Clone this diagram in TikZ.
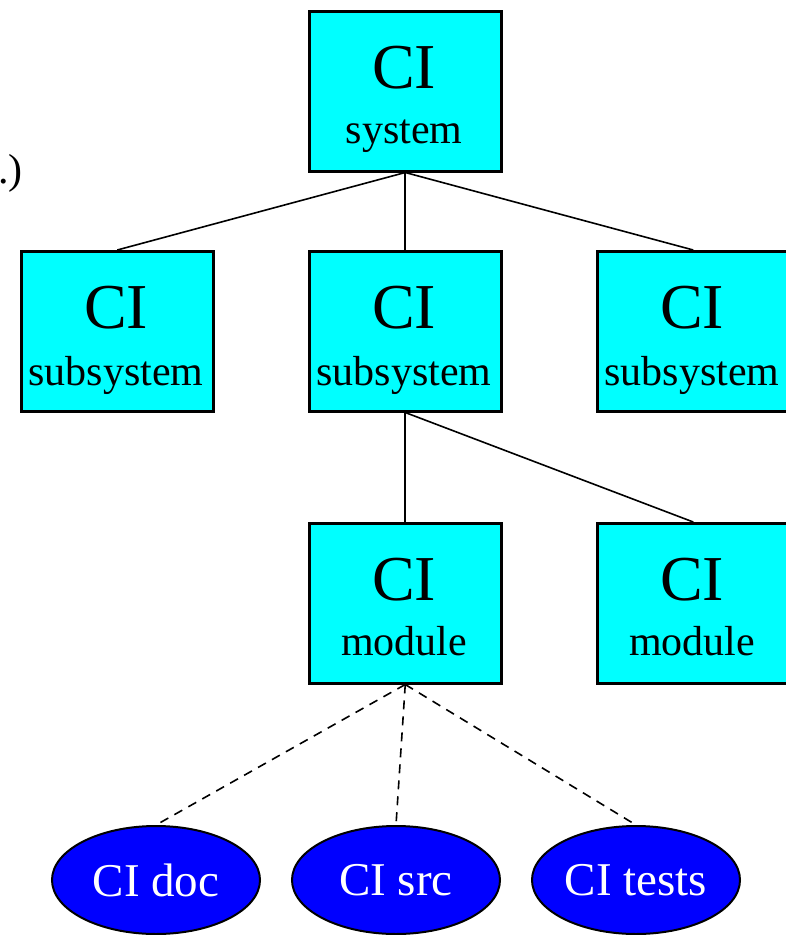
\documentclass[tikz,border=0pt]{standalone}
\usepackage{fontspec}
\setmainfont{Liberation Serif}
\usetikzlibrary{shapes.geometric}
\definecolor{boxfill}{RGB}{0,255,255}
\definecolor{blobfill}{RGB}{0,0,255}
\begin{document}
\begin{tikzpicture}[x=1pt,y=-1pt,
  box/.style={draw=black, line width=2.5pt, fill=boxfill, minimum width=192pt, minimum height=160pt, inner sep=0pt, anchor=north west},
  blob/.style={ellipse, draw=black, line width=2pt, fill=blobfill, minimum width=208pt, minimum height=108pt, inner sep=0pt, text=white, font=\fontsize{47}{50}\selectfont},
  big/.style={font=\fontsize{64}{70}\selectfont, anchor=base, inner sep=0pt},
  small/.style={font=\fontsize{42}{46}\selectfont, anchor=base, inner sep=0pt},
  tie/.style={line width=1.6pt},
  dashtie/.style={line width=1.6pt, dash pattern=on 9pt off 7pt}]
\useasboundingbox (0,0) rectangle (786,935);
\clip (0,0) rectangle (786,935);
% boxes
\node[box] (sys) at (308,10) {};
\node[box] (s1) at (20,250) {};
\node[box] (s2) at (308,250) {};
\node[box] (s3) at (596,250) {};
\node[box] (m1) at (308,522) {};
\node[box] (m2) at (596,522) {};
% ellipses
\node[blob] (e1) at (156,880) {CI doc};
\node[blob] (e2) at (396,880) {CI src};
\node[blob] (e3) at (636,880) {CI tests};
% texts
\node[big] (t0) at (404,88) {CI};
\node[small] (u0) at (404,143) {system};
\node[big] (t1) at (116,328) {CI};
\node[small] (u1) at (116,385) {subsystem};
\node[big] (t2) at (404,328) {CI};
\node[small] (u2) at (404,385) {subsystem};
\node[big] (t3) at (692,328) {CI};
\node[small] (u3) at (692,385) {subsystem};
\node[big] (t4) at (404,600) {CI};
\node[small] (u4) at (404,655) {module};
\node[big] (t5) at (692,600) {CI};
\node[small] (u5) at (692,655) {module};
\node[small, anchor=base east] (frag) at (23,183) {.)};
% connectors
\draw[tie] (sys.south) -- (s1.north);
\draw[tie] (sys.south) -- (s2.north);
\draw[tie] (sys.south) -- (s3.north);
\draw[tie] (s2.south) -- (m1.north);
\draw[tie] (s2.south) -- (m2.north);
\draw[dashtie] (m1.south) -- (e1.north);
\draw[dashtie] (m1.south) -- (e2.north);
\draw[dashtie] (m1.south) -- (e3.north);
\end{tikzpicture}
\end{document}
